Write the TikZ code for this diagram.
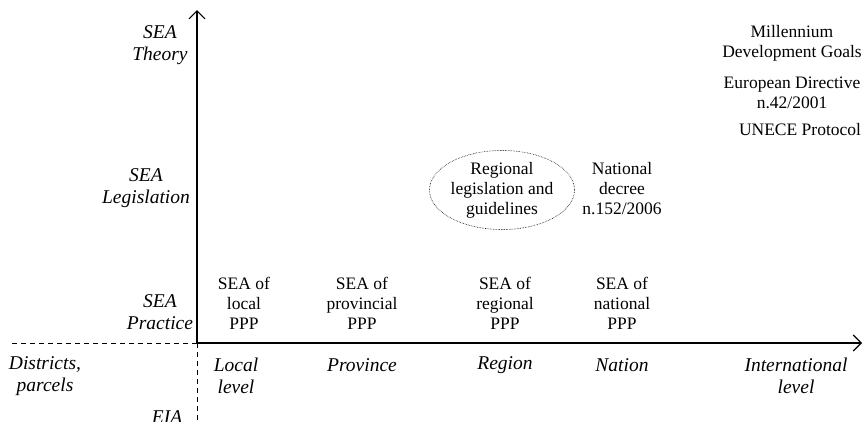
\documentclass[tikz,border=0pt]{standalone}
\usepackage{fontspec}
\setmainfont{Liberation Serif}
\usetikzlibrary{arrows.meta,shapes.geometric}
\begin{document}
\begin{tikzpicture}[x=1pt,y=-1pt,
  txt/.style={font=\fontsize{17.5}{20}\selectfont, align=center, inner sep=0pt},
  itx/.style={txt, font=\fontsize{19.5}{22.5}\selectfont\itshape},
  axis/.style={line width=1.1pt},
  dashaxis/.style={line width=1pt, dash pattern=on 5pt off 4pt}]
\useasboundingbox (0,0) rectangle (864,421);
\coordinate (O) at (197,343);
\coordinate (top) at (197,10);
\coordinate (right) at (862,343);
\coordinate (left) at (10,343);
\coordinate (bottom) at (197,421);
\draw[axis,-{Straight Barb[length=8pt,width=16pt]}] (O) -- (top);
\draw[axis,-{Straight Barb[length=8pt,width=16pt]}] (O) -- (right);
\draw[dashaxis] (O) -- (left);
\draw[dashaxis] (O) -- (bottom);
% vertical axis labels
\node[itx] (theory) at (160,45) {SEA\\Theory};
\node[itx] (legis) at (146,188) {SEA\\Legislation};
\node[itx] (pract) at (160,312) {SEA\\Practice};
% horizontal axis labels
\node[itx] (dist) at (45,376) {Districts,\\parcels};
\node[itx] (eia) at (167,417) {EIA};
\node[itx] (local) at (236,376) {Local\\level};
\node[itx] (prov) at (362,365) {Province};
\node[itx] (reg) at (505,365) {Region};
\node[itx] (nat) at (622,365) {Nation};
\node[itx] (intl) at (796,376) {International\\level};
% practice
\node[txt] (p1) at (244,303) {SEA of\\local\\PPP};
\node[txt] (p2) at (362,303) {SEA of\\provincial\\PPP};
\node[txt] (p3) at (505,303) {SEA of\\regional\\PPP};
\node[txt] (p4) at (622,303) {SEA of\\national\\PPP};
% legislation
\node[txt, ellipse, draw, densely dotted, line width=0.6pt, minimum width=139pt, minimum height=76pt, inner sep=0pt] (rl) at (502,190) {Regional\\legislation and\\guidelines};
\node[txt] (nd) at (622,189) {National\\decree\\n.152/2006};
% theory
\node[txt] (mdg) at (792,43) {Millennium\\Development Goals};
\node[txt] (ed) at (792,93) {European Directive\\n.42/2001};
\node[txt] (un) at (800,130) {UNECE Protocol};
\end{tikzpicture}
\end{document}
